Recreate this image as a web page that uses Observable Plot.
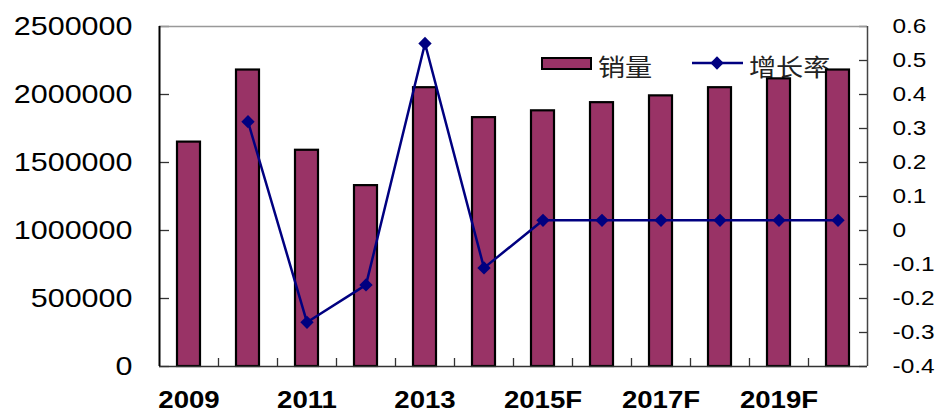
<!DOCTYPE html>
<html><head><meta charset="utf-8">
<script src="https://cdn.jsdelivr.net/npm/d3@7"></script>
<script src="https://cdn.jsdelivr.net/npm/@observablehq/plot@0.6"></script>
<style>
body{margin:0;background:#fff;}
#chart{width:938px;height:412px;}
</style></head><body>
<div id="chart"></div>
<script>
// ---- data ----
const years = ["2009","2010","2011","2012","2013","2014","2015F","2016F","2017F","2018F","2019F","2020F"];
const sales = [1650000,2180000,1590000,1330000,2050000,1830000,1880000,1940000,1990000,2050000,2115000,2180000];
const growth = [null,0.32,-0.27,-0.16,0.55,-0.11,0.03,0.03,0.03,0.03,0.03,0.03];
const salesTicks = [0,500000,1000000,1500000,2000000,2500000];
const growthTicks = [-0.4,-0.3,-0.2,-0.1,0,0.1,0.2,0.3,0.4,0.5,0.6];
const xLabels = ["2009","2011","2013","2015F","2017F","2019F"];
const seriesNames = ["销量","增长率"];
const barColor = "#993366";
const lineColor = "#000080";

// ---- layout ----
const W = 938, H = 412, mL = 159, mR = 71, mT = 26, mB = 46;
const plotW = W - mL - mR, plotH = H - mT - mB;
const bw = plotW / years.length;
const sMax = 2500000, gMin = -0.4, gMax = 0.6;
const toS = g => (g - gMin) / (gMax - gMin) * sMax;
const fromS = s => +((s / sMax) * (gMax - gMin) + gMin).toFixed(1);

const data = years.map((year, i) => ({year, sales: sales[i], growth: growth[i]}));
const gData = data.filter(d => d.growth != null);

const chart = Plot.plot({
  width: W, height: H,
  marginLeft: mL, marginRight: mR, marginTop: mT, marginBottom: mB,
  style: {background: "transparent", fontFamily: "'Liberation Sans', Arial, sans-serif", color: "#000", overflow: "visible"},
  x: {type: "band", domain: years, padding: 0, label: null},
  y: {domain: [0, sMax], label: null},
  marks: [
    Plot.barY(data, {x: "year", y: "sales", fill: barColor, stroke: "#000", strokeWidth: 2.2, insetLeft: 18, insetRight: 18}),
    Plot.line(gData, {x: "year", y: d => toS(d.growth), stroke: lineColor, strokeWidth: 2.5}),
    Plot.dot(gData, {x: "year", y: d => toS(d.growth), symbol: "diamond2", r: 6, fill: lineColor, stroke: "none"}),
    // inner tick marks
    Plot.ruleY(salesTicks, {y: d => d, stroke: "#333", strokeWidth: 1.3, insetRight: plotW - 10}),
    Plot.ruleY(growthTicks, {y: d => toS(d), stroke: "#333", strokeWidth: 1.3, insetLeft: plotW - 8}),
    Plot.ruleX(years.slice(1), {x: d => d, dx: -bw / 2, insetTop: plotH - 8, stroke: "#333", strokeWidth: 1.3}),
    // frame
    Plot.ruleY([sMax], {stroke: "#999", strokeWidth: 1.5}),
    Plot.ruleY([0], {stroke: "#333", strokeWidth: 1.5}),
    Plot.ruleX([years[0]], {dx: -bw / 2, stroke: "#000", strokeWidth: 2}),
    Plot.ruleX([years[years.length - 1]], {dx: bw / 2, stroke: "#444", strokeWidth: 1.5}),
    // axes labels
    Plot.axisY(salesTicks, {anchor: "left", tickSize: 0, tickPadding: 27, fontSize: 25, tickFormat: d => String(d)}),
    Plot.axisY(growthTicks.map(toS), {anchor: "right", tickSize: 0, tickPadding: 25, fontSize: 20, tickFormat: d => String(fromS(d))}),
    Plot.axisX(xLabels, {anchor: "bottom", tickSize: 0, tickPadding: 25, fontSize: 23, fontWeight: "bold"})
  ]
});
document.getElementById("chart").appendChild(chart);

// ---- legend (inside the plot, drawn beneath bars) ----
const svg = d3.select(chart);
const firstMark = chart.querySelector("g");
const lg = d3.select(chart.insertBefore(document.createElementNS("http://www.w3.org/2000/svg", "g"), firstMark));
lg.append("rect").attr("x", 542).attr("y", 58).attr("width", 49).attr("height", 11)
  .attr("fill", barColor).attr("stroke", "#000").attr("stroke-width", 2);
lg.append("text").attr("class", "lgt").attr("x", 598).attr("y", 76).text(seriesNames[0]);
lg.append("line").attr("x1", 692).attr("x2", 743).attr("y1", 63).attr("y2", 63)
  .attr("stroke", lineColor).attr("stroke-width", 2.5);
lg.append("path").attr("transform", "translate(717,63)")
  .attr("d", d3.symbol(d3.symbolDiamond2, Math.PI * 6 * 6)()).attr("fill", lineColor);
lg.append("text").attr("class", "lgt").attr("x", 749).attr("y", 76).text(seriesNames[1]);
lg.selectAll("text.lgt").attr("font-family", "'Noto Sans CJK SC', sans-serif").attr("font-size", 24)
  .attr("fill", "#222").attr("text-anchor", "start");

// horizontal stretch of text to match reference
function stretch(sel, k) {
  sel.each(function () {
    const w = this.getComputedTextLength();
    if (w > 0) { this.setAttribute("textLength", w * k); this.setAttribute("lengthAdjust", "spacingAndGlyphs"); }
  });
}
stretch(svg.selectAll('g[aria-label="y-axis tick label"] text'), 1.22);
stretch(svg.selectAll('g[aria-label="x-axis tick label"] text'), 1.2);
stretch(lg.selectAll("text.lgt"), 1.13);
</script>
</body></html>
